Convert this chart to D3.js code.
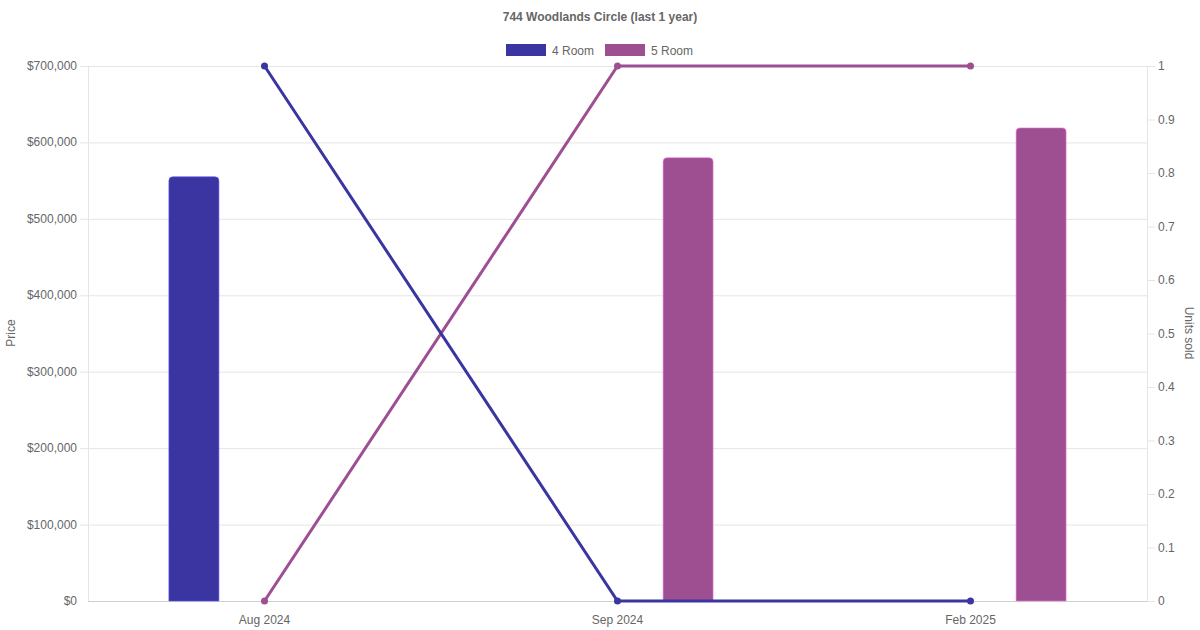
<!DOCTYPE html>
<html><head><meta charset="utf-8">
<script src="https://cdn.jsdelivr.net/npm/d3@7"></script>
<style>body{margin:0;background:#fff}svg{display:block}text{font-family:"Liberation Sans",Arial,sans-serif}</style>
</head><body>
<svg id="c" width="1200" height="630"></svg>
<script>
const title = "744 Woodlands Circle (last 1 year)";
const categories = ["Aug 2024", "Sep 2024", "Feb 2025"];
const seriesNames = ["4 Room", "5 Room"];
const colors = ["#3a35a0", "#9e4f92"];
const price4Room = [555000, null, null];
const price5Room = [null, 580000, 619000];
const units4Room = [1, 0, 0];
const units5Room = [0, 1, 1];
const priceTicks = [0, 100000, 200000, 300000, 400000, 500000, 600000, 700000];
const unitTicks = [0, 0.1, 0.2, 0.3, 0.4, 0.5, 0.6, 0.7, 0.8, 0.9, 1];

const svg = d3.select("#c");
const L = 88, R = 1147, T = 66, B = 601;
const x = d3.scaleBand().domain(categories).range([L, R]);
const yP = d3.scaleLinear().domain([0, 700000]).range([B, T]);
const yU = d3.scaleLinear().domain([0, 1]).range([B, T]);
const grey = "#666";

// title
svg.append("text").attr("x", 600).attr("y", 21).attr("text-anchor", "middle")
  .attr("font-size", 12).attr("font-weight", "bold").attr("fill", grey).text(title);

// legend
const legX = [506, 605];
seriesNames.forEach((n, i) => {
  svg.append("rect").attr("x", legX[i]).attr("y", 44).attr("width", 40).attr("height", 12).attr("fill", colors[i]);
  svg.append("text").attr("x", legX[i] + 46).attr("y", 54.5).attr("font-size", 12).attr("fill", grey).text(n);
});

// grid
const gGrid = svg.append("g");
priceTicks.forEach(t => {
  gGrid.append("line").attr("x1", t === 0 ? L : L - 8).attr("x2", R).attr("y1", yP(t) + 0.5).attr("y2", yP(t) + 0.5)
    .attr("stroke", t === 0 ? "#cfcfcf" : "#e5e5e5").attr("stroke-width", 1);
});
gGrid.append("line").attr("x1", L + 0.5).attr("x2", L + 0.5).attr("y1", T).attr("y2", B).attr("stroke", "#e5e5e5");
gGrid.append("line").attr("x1", R + 0.5).attr("x2", R + 0.5).attr("y1", T).attr("y2", B).attr("stroke", "#e5e5e5");
unitTicks.forEach(t => {
  gGrid.append("line").attr("x1", R).attr("x2", R + 8).attr("y1", yU(t) + 0.5).attr("y2", yU(t) + 0.5).attr("stroke", "#e5e5e5");
});

// axis labels
const fmt = d3.format(",");
priceTicks.forEach(t => {
  svg.append("text").attr("x", L - 11).attr("y", yP(t) + 4).attr("text-anchor", "end")
    .attr("font-size", 12).attr("fill", grey).text("$" + fmt(t));
});
unitTicks.forEach(t => {
  svg.append("text").attr("x", R + 11).attr("y", yU(t) + 4).attr("text-anchor", "start")
    .attr("font-size", 12).attr("fill", grey).text(String(t));
});
categories.forEach(c => {
  svg.append("text").attr("x", x(c) + x.bandwidth() / 2).attr("y", 624).attr("text-anchor", "middle")
    .attr("font-size", 12).attr("fill", grey).text(c);
});
svg.append("text").attr("transform", "translate(15,333) rotate(-90)").attr("text-anchor", "middle")
  .attr("font-size", 12).attr("fill", grey).text("Price");
svg.append("text").attr("transform", "translate(1185,333) rotate(90)").attr("text-anchor", "middle")
  .attr("font-size", 12).attr("fill", grey).text("Units sold");

// bars
const priceSeries = [price4Room, price5Room];
const bw = 50, rr = 4;
function barPath(x0, y0, w, h) {
  return `M${x0},${y0 + h}V${y0 + rr}Q${x0},${y0} ${x0 + rr},${y0}H${x0 + w - rr}Q${x0 + w},${y0} ${x0 + w},${y0 + rr}V${y0 + h}Z`;
}
priceSeries.forEach((vals, si) => {
  svg.append("g").selectAll("path").data(categories.map((c, i) => ({c, v: vals[i]})).filter(d => d.v != null))
    .join("path")
    .attr("d", d => {
      const cx = x(d.c) + x.bandwidth() / 2 + (si === 0 ? -1 : 1) * x.bandwidth() * 0.2;
      return barPath(cx - bw / 2, yP(d.v), bw, B - yP(d.v));
    })
    .attr("fill", colors[si]).attr("stroke", d3.color(colors[si]).brighter(1.2)).attr("stroke-width", 0.6);
});

// lines
const unitSeries = [units4Room, units5Room];
const line = d3.line().x((d, i) => x(categories[i]) + x.bandwidth() / 2).y(d => yU(d));
[1, 0].forEach(si => {
  const vals = unitSeries[si];
  svg.append("path").datum(vals).attr("d", line).attr("fill", "none")
    .attr("stroke", colors[si]).attr("stroke-width", 3);
  svg.append("g").selectAll("circle").data(vals).join("circle")
    .attr("cx", (d, i) => x(categories[i]) + x.bandwidth() / 2).attr("cy", d => yU(d))
    .attr("r", 3.5).attr("fill", colors[si]);
});
</script>
</body></html>
